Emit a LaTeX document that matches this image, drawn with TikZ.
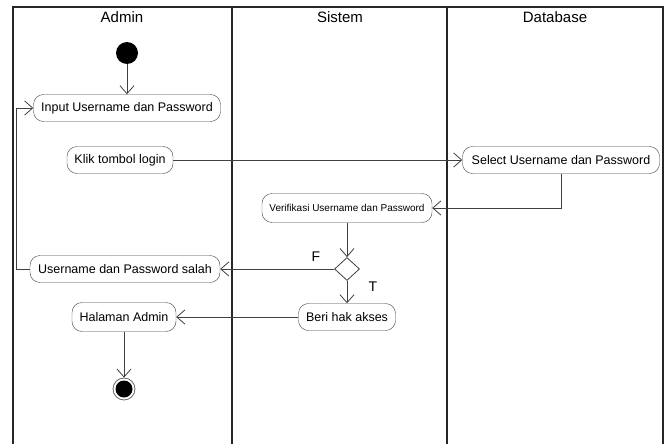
\documentclass[tikz,border=0pt]{standalone}
\usepackage{fontspec}
\setmainfont{Liberation Sans}
\usetikzlibrary{shapes.geometric,arrows.meta}

\tikzset{
  act/.style={draw=black!75, rounded corners=10pt, minimum height=27pt, inner xsep=4pt,
    font=\fontsize{12.5}{14}\selectfont},
  lane/.style={line width=1.3pt, black!85},
  flow/.style={draw=black!75, line width=0.8pt, -{Straight Barb[length=8pt,width=14pt]}},
  lanehead/.style={font=\fontsize{15}{17}\selectfont},
  startnode/.style={circle, fill=black, minimum size=22pt, inner sep=0pt},
  endnode/.style={circle, draw=black!60, line width=0.8pt, minimum size=22pt, inner sep=0pt,
    path picture={\fill (path picture bounding box.center) circle (8.5pt);}},
  decision/.style={diamond, draw=black!75, line width=0.8pt, minimum width=25pt, minimum height=23pt, inner sep=0pt},
}

\begin{document}
\begin{tikzpicture}[x=1pt,y=-1pt]
\useasboundingbox (0,0) rectangle (668,444);
% swimlanes
\draw[lane] (13,444) -- (13,7) -- (663,7) -- (663,444);
\draw[lane] (232,7) -- (232,444);
\draw[lane] (447,7) -- (447,444);
\node[lanehead] (hAdmin) at (122,17) {Admin};
\node[lanehead] (hSistem) at (340,17) {Sistem};
\node[lanehead] (hDb) at (555,17) {Database};

% activities
\node[startnode] (start) at (127,53) {};
\node[act, minimum width=187pt] (input) at (127,108) {Input Username dan Password};
\node[act, minimum width=106pt] (klik) at (120,160) {Klik tombol login};
\node[act, minimum width=197pt] (select) at (561,160) {Select Username dan Password};
\node[act, minimum width=170pt, minimum height=29pt, font=\fontsize{10}{12}\selectfont] (verif) at (347,208) {Verifikasi Username dan Password};
\node[decision] (cek) at (347,269) {};
\node[act, minimum width=190pt] (salah) at (125,269) {Username dan Password salah};
\node[act, minimum width=97pt] (beri) at (347,317) {Beri hak akses};
\node[act, minimum width=104pt, minimum height=29pt] (halaman) at (124,317) {Halaman Admin};
\node[endnode] (stop) at (124,389) {};
\node[font=\fontsize{14}{16}\selectfont] (lblF) at (316,257) {F};
\node[font=\fontsize{14}{16}\selectfont] (lblT) at (373,287) {T};

% flows
\draw[flow] (start) -- (input);
\draw[flow] (klik) -- (select);
\draw[flow] (select.south) |- (verif.east);
\draw[flow] (verif) -- (cek);
\draw[flow] (cek) -- (salah);
\draw[flow] (salah.west) -- ++(-13,0) |- (input.west);
\draw[flow] (cek) -- (beri);
\draw[flow] (beri) -- (halaman);
\draw[flow] (halaman) -- (stop);
\end{tikzpicture}
\end{document}
